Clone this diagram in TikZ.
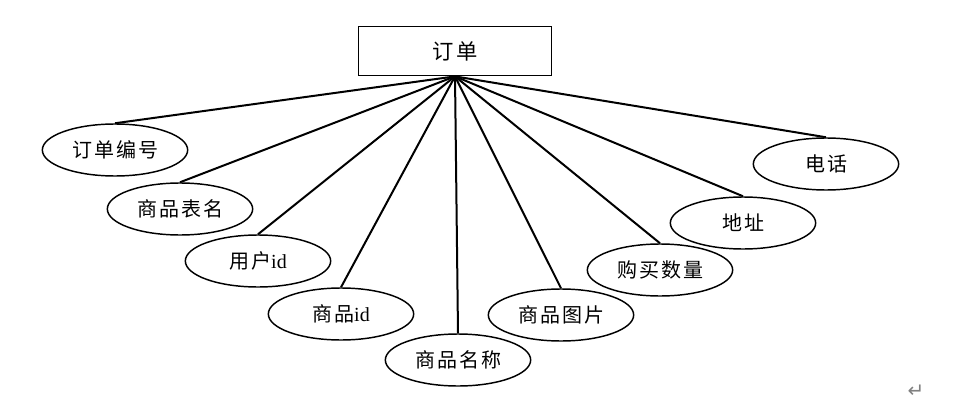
\documentclass[tikz,border=0pt]{standalone}
\usepackage{fontspec}
\setmainfont{Liberation Serif}
\newfontfamily\cjk[LetterSpace=10]{Noto Sans CJK SC}
\newfontfamily\symb{DejaVu Sans}
\usetikzlibrary{shapes.geometric}

\begin{document}
\begin{tikzpicture}[x=0.75pt,y=-0.75pt,every node/.style={font=\fontsize{15}{18}\selectfont,align=center},
  attr/.style={draw,ellipse,line width=1.1pt,minimum width=109pt,minimum height=39pt,inner sep=0pt},
  link/.style={line width=1.5pt}]
  \useasboundingbox (0,0) rectangle (980,417);
  \node[draw,line width=1.1pt,minimum width=145pt,minimum height=37pt,font=\fontsize{16}{19}\selectfont] (order) at (455,51) {\cjk 订单};
  \node[attr] (ono) at (115,150) {\cjk 订单编号};
  \node[attr] (tbl) at (180,209) {\cjk 商品表名};
  \node[attr] (uid) at (258,261) {{\cjk 用户}id};
  \node[attr] (gid) at (341,314) {{\cjk 商品}id};
  \node[attr] (gname) at (458,360) {\cjk 商品名称};
  \node[attr] (gpic) at (561,315) {\cjk 商品图片};
  \node[attr] (qty) at (660,270) {\cjk 购买数量};
  \node[attr] (addr) at (743,223) {\cjk 地址};
  \node[attr] (tel) at (826,164) {\cjk 电话};
  \node[text=gray,font=\symb\fontsize{15}{17}\selectfont] (ret) at (916,391) {↵};
  \foreach \a in {ono,tbl,uid,gid,gname,gpic,qty,addr,tel}
    \draw[link] (order.south) -- (\a.north);
\end{tikzpicture}
\end{document}
